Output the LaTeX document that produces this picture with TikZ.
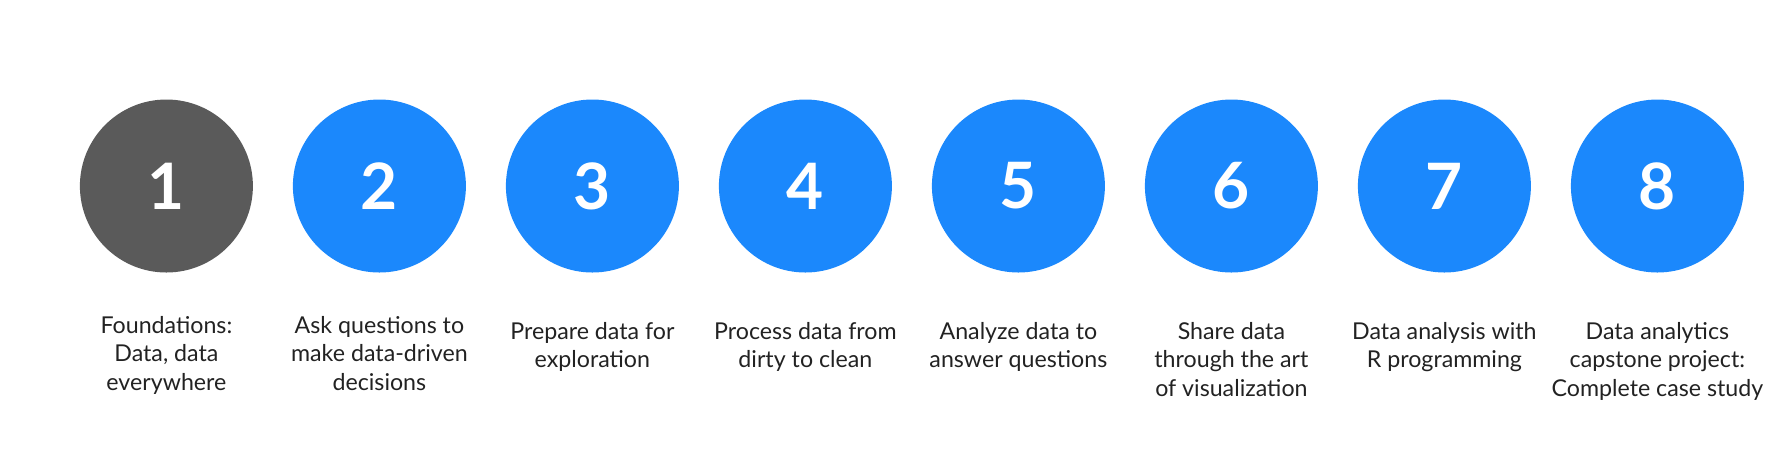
\documentclass[tikz,border=0pt]{standalone}
\usepackage{fontspec}
\setmainfont{Lato}
\usetikzlibrary{positioning}
\definecolor{stepblue}{RGB}{27,136,252}
\definecolor{stepgray}{RGB}{90,90,90}
\definecolor{captiontext}{RGB}{34,34,34}

\begin{document}
\begin{tikzpicture}[stage/.style={circle, fill=#1, minimum size=86.5pt, inner sep=0pt, outer sep=0pt, text=white, font=\fontsize{32}{32}\selectfont\bfseries},
  caption/.style={align=center, inner sep=0pt, text=captiontext, font=\fontsize{11.6}{14.15}\selectfont},
  node distance=20pt]
  \useasboundingbox (0,0) rectangle (894pt,-228.5pt);
  % the eight stages
  \node[stage=stepgray] (c1) at (83.2pt,-93pt) {1};
  \node[stage=stepblue, right=of c1] (c2) {2};
  \node[stage=stepblue, right=of c2] (c3) {3};
  \node[stage=stepblue, right=of c3] (c4) {4};
  \node[stage=stepblue, right=of c4] (c5) {5};
  \node[stage=stepblue, right=of c5] (c6) {6};
  \node[stage=stepblue, right=of c6] (c7) {7};
  \node[stage=stepblue, right=of c7] (c8) {8};
  % captions
  \node[caption, below=21.75pt of c1] (t1) {Foundations:\\Data, data\\everywhere};
  \node[caption, below=21.75pt of c2] (t2) {Ask questions to\\make data-driven\\decisions};
  \node[caption, below=24.75pt of c3] (t3) {Prepare data for\\exploration};
  \node[caption, below=24.75pt of c4] (t4) {Process data from\\dirty to clean};
  \node[caption, below=24.75pt of c5] (t5) {Analyze data to\\answer questions};
  \node[caption, below=24.75pt of c6] (t6) {Share data\\through the art\\of visualization};
  \node[caption, below=24.75pt of c7] (t7) {Data analysis with\\R programming};
  \node[caption, below=24.75pt of c8] (t8) {Data analytics\\capstone project:\\Complete case study};
\end{tikzpicture}
\end{document}
